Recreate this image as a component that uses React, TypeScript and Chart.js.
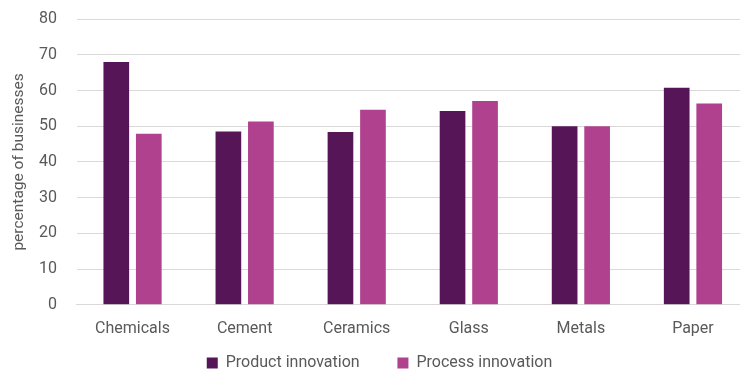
import React, { useEffect, useRef } from "react";
import { Chart, registerables } from "chart.js";

Chart.register(...registerables);

const categories = ["Chemicals", "Cement", "Ceramics", "Glass", "Metals", "Paper"];
const productInnovation = [68.0, 48.5, 48.4, 54.3, 50.0, 60.8];
const processInnovation = [47.9, 51.3, 54.6, 57.1, 50.0, 56.4];
const seriesNames = ["Product innovation", "Process innovation"];
const yTicks = [0, 10, 20, 30, 40, 50, 60, 70, 80];

const PRODUCT_COLOR = "#561557";
const PROCESS_COLOR = "#B0418E";
const TEXT_COLOR = "#595959";
const GRID_COLOR = "#D9D9D9";
const FONT = { family: "Roboto", size: 16 };

const shiftLegend = {
  id: "shiftLegend",
  afterLayout(chart: any) {
    const lg = chart.legend;
    if (lg) {
      lg.left += 5;
      lg.right += 5;
    }
  },
};

export default function App() {
  const ref = useRef<HTMLCanvasElement | null>(null);

  useEffect(() => {
    document.body.style.margin = "0";
    if (!ref.current) return;
    const chart = new Chart(ref.current, {
      type: "bar",
      data: {
        labels: categories,
        datasets: [
          {
            label: seriesNames[0],
            data: productInnovation,
            backgroundColor: PRODUCT_COLOR,
            barPercentage: 0.79,
            categoryPercentage: 0.58,
          },
          {
            label: seriesNames[1],
            data: processInnovation,
            backgroundColor: PROCESS_COLOR,
            barPercentage: 0.79,
            categoryPercentage: 0.58,
          },
        ],
      },
      plugins: [shiftLegend],
      options: {
        animation: false,
        responsive: false,
        maintainAspectRatio: false,
        layout: { padding: { top: 0, right: 0, left: 0, bottom: 0 } },
        font: FONT,
        color: TEXT_COLOR,
        plugins: {
          tooltip: { enabled: false },
          legend: {
            position: "bottom",
            labels: {
              boxWidth: 11,
              boxHeight: 11,
              padding: 10,
              color: TEXT_COLOR,
              font: FONT,
              generateLabels: (c: any) => {
                const items = Chart.defaults.plugins.legend.labels.generateLabels(c);
                return items.map((it: any, i: number) =>
                  i === 0 ? { ...it, text: it.text + "       " } : it
                );
              },
            },
          },
        },
        scales: {
          x: {
            offset: true,
            grid: { display: false, drawTicks: false },
            border: { display: true, color: GRID_COLOR, width: 1 },
            ticks: {
              color: TEXT_COLOR,
              font: FONT,
              padding: 15,
            },
            afterFit: (axis: any) => {
              axis.height -= 9;
            },
          },
          y: {
            min: 0,
            max: 80,
            afterBuildTicks: (axis: any) => {
              axis.ticks = yTicks.map((v) => ({ value: v }));
            },
            afterFit: (axis: any) => {
              axis.width = 76.5;
            },
            grid: { color: GRID_COLOR, lineWidth: 1, drawTicks: false },
            border: { display: false },
            ticks: {
              color: TEXT_COLOR,
              font: FONT,
              padding: 19.5,
            },
            title: {
              display: true,
              text: "percentage of businesses",
              color: TEXT_COLOR,
              font: { family: "Roboto", size: 15.5 },
              padding: { top: 10, bottom: 10 },
            },
          },
        },
      },
    });
    return () => chart.destroy();
  }, []);

  return (
    <div style={{ width: 740, height: 369, overflow: "hidden", position: "relative" }}>
      <canvas
        ref={ref}
        width={749}
        height={391}
        style={{ display: "block", width: 749, height: 391, position: "absolute", left: 0, top: -10 }}
      />
    </div>
  );
}
